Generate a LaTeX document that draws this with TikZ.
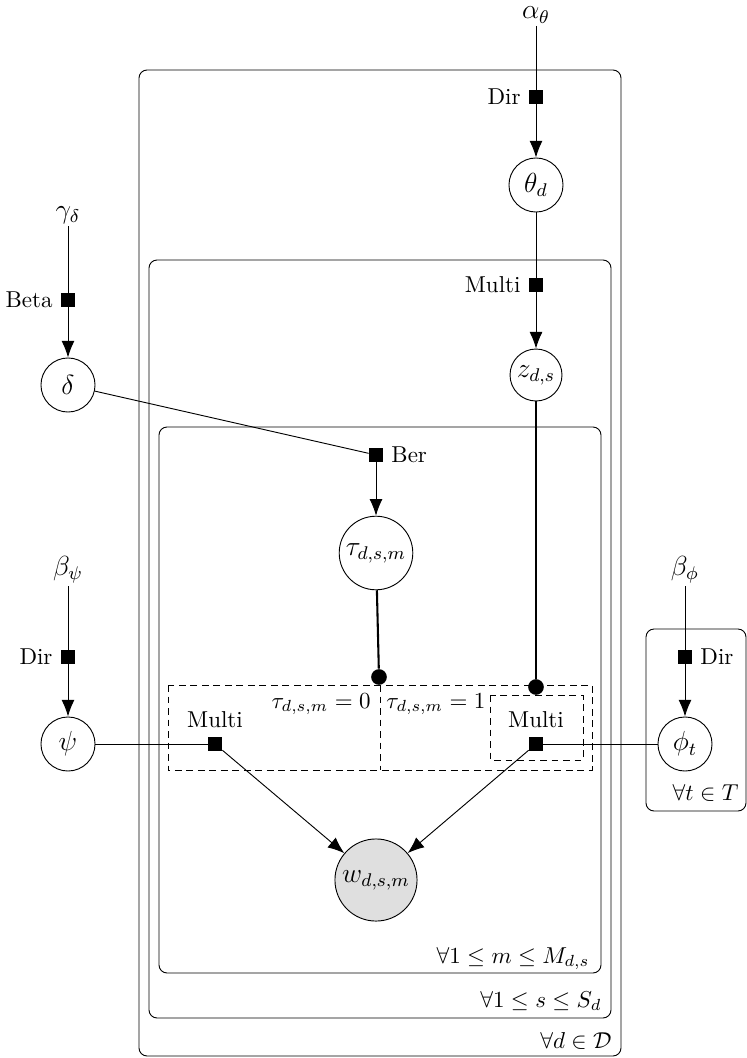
\documentclass[tikz,border=0pt]{standalone}
\usepackage{amsmath,amssymb}
\usetikzlibrary{arrows.meta}
\begin{document}
\begin{tikzpicture}[x=0.4348pt,y=-0.4348pt,
  var/.style={circle,draw,inner sep=0pt,minimum size=23.5pt,font=\large},
  fac/.style={rectangle,fill=black,inner sep=0pt,minimum size=6pt},
  plate/.style={draw,rounded corners=3.5pt},
  arr/.style={-{Latex[length=7.2pt,width=5.6pt]}},
  dotnode/.style={circle,fill=black,inner sep=0pt,minimum size=6.8pt},
  thickline/.style={line width=0.9pt},
  gatebox/.style={dash pattern=on 3pt off 2pt},
  hyper/.style={inner sep=1pt,font=\large}]
\useasboundingbox (0,0) rectangle (747,1058);

% plates
\draw[plate] (139,70) rectangle (621,1056);
\draw[plate] (149,260) rectangle (611,1018);
\draw[plate] (159,427) rectangle (601,973);
\draw[plate] (646,629) rectangle (746,811);
\node[anchor=base east,inner sep=0pt] (pd) at (612,1048) {$\forall d \in \mathcal{D}$};
\node[anchor=base east,inner sep=0pt] (ps) at (602,1007) {$\forall 1 \leq s \leq S_d$};
\node[anchor=base east,inner sep=0pt] (pm) at (590,963) {$\forall 1 \leq m \leq M_{d,s}$};
\node[anchor=base east,inner sep=0pt] (pt) at (739,800) {$\forall t \in T$};

% dashed gate boxes
\draw[gatebox] (168,685) rectangle (592,770);
\draw[gatebox] (380,685) -- (380,770);
\draw[gatebox] (490,695) rectangle (583,760);
\node[anchor=base east,inner sep=0pt] (t0) at (371,708) {$\tau_{d,s,m}=0$};
\node[anchor=base west,inner sep=0pt] (t1) at (386,708) {$\tau_{d,s,m}=1$};

% theta branch
\node[hyper] (alpha) at (536,15) {$\alpha_\theta$};
\node[fac] (fdir1) at (536,97) {};
\node[anchor=east] at (fdir1.west) {Dir};
\node[var] (theta) at (536,185) {$\theta_d$};
\node[fac] (fmz) at (536,285) {};
\node[anchor=east] at (fmz.west) {Multi};
\node[var,minimum size=22.6pt] (z) at (536,375) {$z_{d,s}$};

% delta branch
\node[hyper] (gamma) at (68,215) {$\gamma_\delta$};
\node[fac] (fbeta) at (68,300) {};
\node[anchor=east] at (fbeta.west) {Beta};
\node[var] (delta) at (68,385) {$\delta$};
\node[fac] (fber) at (376,455) {};
\node[anchor=west] at (fber.east) {Ber};
\node[var,minimum size=32pt] (tau) at (376,553) {$\tau_{d,s,m}$};

% gates
\node[dotnode] (dot1) at (379,677) {};
\node[dotnode] (dot2) at (536,687) {};
\node[fac] (fm1) at (215,744) {};
\node[anchor=base] at (215,727) {Multi};
\node[fac] (fm2) at (536,744) {};
\node[anchor=base] at (536,727) {Multi};

% psi branch
\node[hyper] (bpsi) at (68,570) {$\beta_\psi$};
\node[fac] (fdir2) at (68,657) {};
\node[anchor=east] at (fdir2.west) {Dir};
\node[var] (psi) at (68,744) {$\psi$};

% phi branch
\node[hyper] (bphi) at (685,570) {$\beta_\phi$};
\node[fac] (fdir3) at (685,657) {};
\node[anchor=west] at (fdir3.east) {Dir};
\node[var] (phi) at (685,744) {$\phi_t$};

% observed word
\node[var,minimum size=35.7pt,fill=gray!25] (w) at (376,880) {$w_{d,s,m}$};

% edges
\draw (alpha) -- (fdir1);
\draw[arr] (fdir1) -- (theta);
\draw (theta) -- (fmz);
\draw[arr] (fmz) -- (z);
\draw (gamma) -- (fbeta);
\draw[arr] (fbeta) -- (delta);
\draw (delta) -- (fber);
\draw[arr] (fber) -- (tau);
\draw[thickline] (tau) -- (dot1);
\draw[thickline] (z) -- (dot2);
\draw (bpsi) -- (fdir2);
\draw[arr] (fdir2) -- (psi);
\draw (bphi) -- (fdir3);
\draw[arr] (fdir3) -- (phi);
\draw (psi) -- (fm1);
\draw (phi) -- (fm2);
\draw[arr] (fm1) -- (w);
\draw[arr] (fm2) -- (w);
\end{tikzpicture}
\end{document}
